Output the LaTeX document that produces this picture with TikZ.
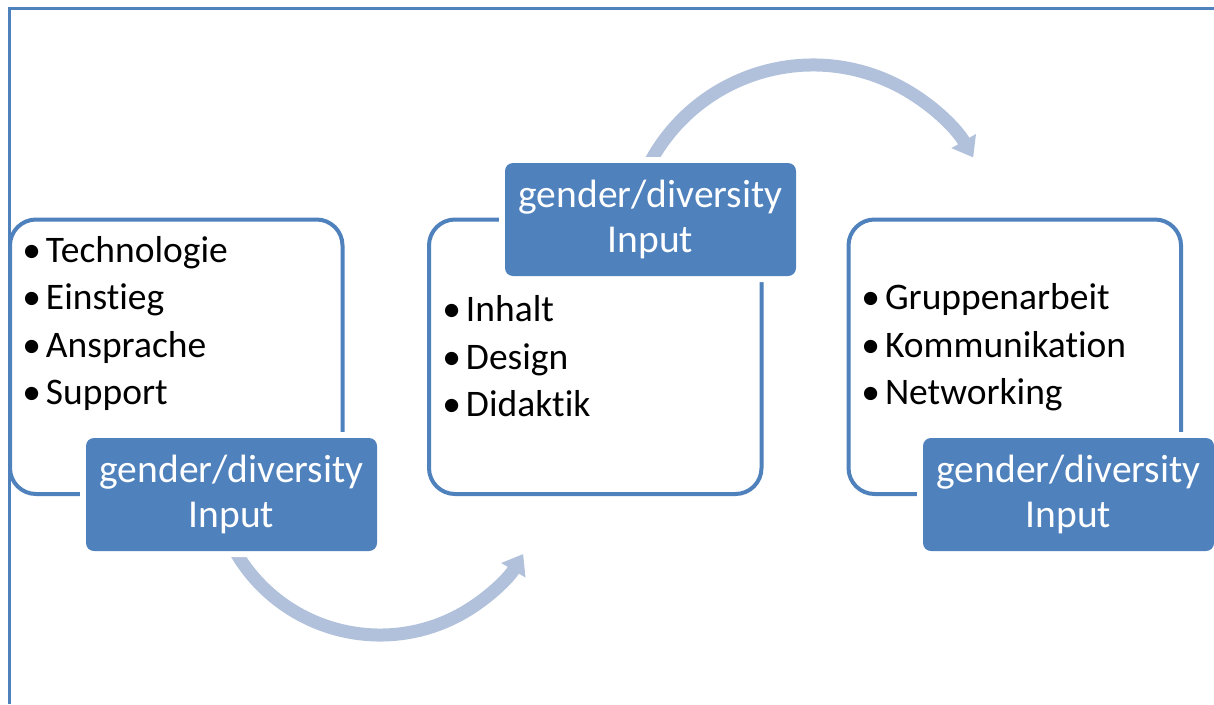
\documentclass[tikz,border=0pt]{standalone}
\usepackage{fontspec}
\setmainfont[Ligatures=NoCommon]{Carlito}
\usetikzlibrary{arrows.meta}
\definecolor{acc}{RGB}{79,129,189}
\definecolor{arr}{RGB}{177,193,219}
\newcommand{\bul}{\llap{•\hspace{5pt}}}
\begin{document}
\begin{tikzpicture}[x=1pt,y=-1pt,
  frame/.style={draw=acc, line width=3pt},
  listbox/.style={draw=acc, line width=4pt, fill=white, rounded corners=26pt,
    minimum width=332.5pt, minimum height=274.5pt, inner sep=0pt, outer sep=0pt,
    anchor=north west},
  inbox/.style={fill=acc, rounded corners=8pt, minimum width=291pt,
    minimum height=113pt, inner sep=0pt, outer sep=0pt, anchor=north west,
    text=white, align=center, font=\fontsize{39.5}{45}\selectfont,
    preaction={draw=white, line width=12pt}},
  item/.style={anchor=base west, inner sep=0pt, outer sep=0pt,
    font=\fontsize{37.5}{44}\selectfont},
  flow/.style={draw=arr, line width=13pt, -{Triangle[width=27pt,length=19pt]}}
]
\useasboundingbox (0,0) rectangle (1214,704);
% frame
\coordinate (ftr) at (1214,8);
\coordinate (ftl) at (9,8);
\coordinate (fbl) at (9,704);
\draw[frame] (ftr) -- (ftl) -- (fbl);
% arrows
\coordinate (a1s) at ({380+167*cos(150)},{468+167*sin(150)});
\draw[flow] (a1s) arc[start angle=150, end angle=31, radius=167];
\coordinate (a2s) at ({813+185*cos(208)},{250+185*sin(208)});
\draw[flow] (a2s) arc[start angle=208, end angle=330, radius=185];
% list boxes
\node[listbox] (b1) at (10,219.5) {};
\node[listbox] (b2) at (429,219.5) {};
\node[listbox] (b3) at (848.5,219.5) {};
% items
\node[item] (t11) at (46,262) {\bul Technologie};
\node[item] (t12) at (46,309.5) {\bul Einstieg};
\node[item] (t13) at (46,357) {\bul Ansprache};
\node[item] (t14) at (46,404.5) {\bul Support};
\node[item] (t21) at (466,321.5) {\bul Inhalt};
\node[item] (t22) at (466,369) {\bul Design};
\node[item] (t23) at (466,416.5) {\bul Didaktik};
\node[item] (t31) at (885,309.5) {\bul Gruppenarbeit};
\node[item] (t32) at (885,357) {\bul Kommunikation};
\node[item] (t33) at (885,404) {\bul Networking};
% input boxes
\node[inbox] (g1) at (86,438) {gender/diversity\\Input};
\node[inbox] (g2) at (505,163) {gender/diversity\\Input};
\node[inbox] (g3) at (923,438) {gender/diversity\\Input};
\end{tikzpicture}
\end{document}
